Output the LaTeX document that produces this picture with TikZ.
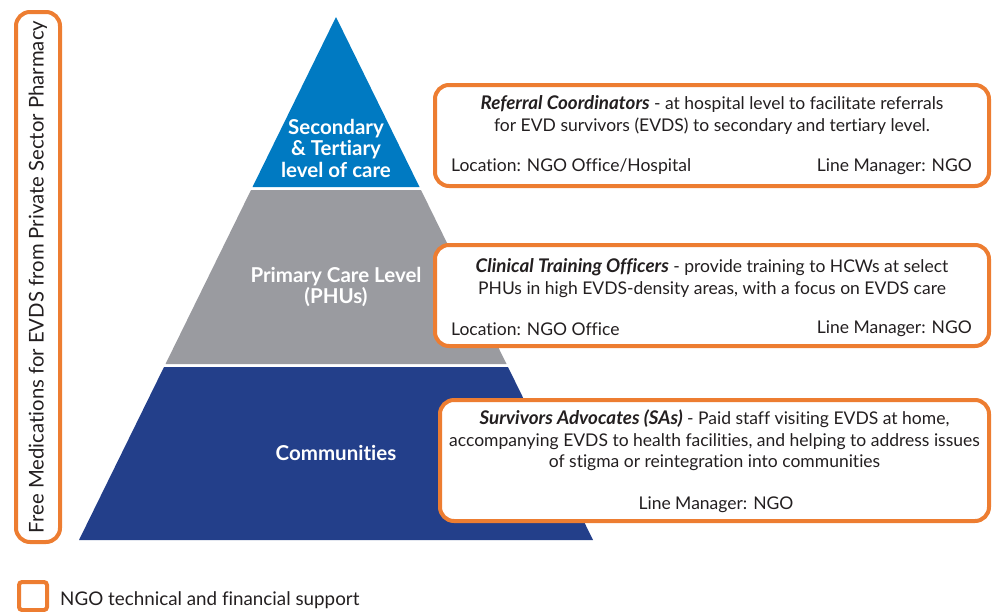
\documentclass[tikz,border=0pt]{standalone}
\usepackage{fontspec}
\setmainfont{Lato}[Ligatures=NoCommon]
\definecolor{tierblue}{RGB}{0,122,194}
\definecolor{tiergray}{RGB}{154,155,160}
\definecolor{tiernavy}{RGB}{35,63,138}
\definecolor{ngoorange}{RGB}{237,125,49}
\definecolor{txt}{RGB}{35,31,32}
\tikzset{
  ngobox/.style={draw=ngoorange, line width=4pt, rounded corners=14pt, fill=white, inner sep=0pt},
  tierlabel/.style={text=white, font=\fontsize{20.5}{21.5}\selectfont\bfseries, align=center},
  boxtext/.style={text=txt, font=\fontsize{17.5}{21.5}\selectfont, align=center, inner sep=0pt},
  boxside/.style={text=txt, font=\fontsize{17.5}{21}\selectfont, inner sep=0pt},
  lead/.style={font=\fontsize{18.8}{21.5}\selectfont\bfseries\itshape}
}
\begin{document}
\begin{tikzpicture}[x=1pt,y=-1pt]
\useasboundingbox (0,0) rectangle (993,611);
% pyramid tiers
\fill[tierblue] (336,17) -- (419.5,187) -- (252.5,187) -- cycle;
\fill[tiergray] (251,190) -- (421,190) -- (506.5,364) -- (165.5,364) -- cycle;
\fill[tiernavy] (164,367) -- (508,367) -- (593,540) -- (79,540) -- cycle;
\node[tierlabel] (sec) at (336,148) {Secondary\\\& Tertiary\\level of care};
\node[tierlabel] (prim) at (336,287) {Primary Care Level\\(PHUs)};
\node[tierlabel] (comm) at (336,453) {Communities};
% left box
\node[ngobox, minimum width=44pt, minimum height=530pt] (med) at (38,277) {};
\node[rotate=90, text=txt, font=\fontsize{20.3}{21}\selectfont] (medt) at (med.center) {Free Medications for EVDS from Private Sector Pharmacy};
% box 1
\node[ngobox, minimum width=554pt, minimum height=101pt] (b1) at (712,135.5) {};
\node[boxtext] (b1t) at (712,115) {{\fontsize{18.8}{21.5}\selectfont\bfseries\itshape Referral Coordinators} - at hospital level to facilitate referrals\\for EVD survivors (EVDS) to secondary and tertiary level.};
\node[boxside, anchor=west] (b1l) at (451,167) {Location: NGO Office/Hospital};
\node[boxside, anchor=east] (b1m) at (972,167) {Line Manager: NGO};
% box 2
\node[ngobox, minimum width=554pt, minimum height=101pt] (b2) at (712,295.5) {};
\node[boxtext] (b2t) at (712,278) {{\fontsize{18.8}{21.5}\selectfont\bfseries\itshape Clinical Training Officers} - provide training to HCWs at select\\PHUs in high EVDS-density areas, with a focus on EVDS care};
\node[boxside, anchor=west] (b2l) at (451,329) {Location: NGO Office};
\node[boxside, anchor=east] (b2m) at (972,329) {Line Manager: NGO};
% box 3
\node[ngobox, minimum width=549pt, minimum height=121pt] (b3) at (714.5,460.5) {};
\node[boxtext] (b3t) at (714.5,440.5) {{\fontsize{18.8}{21.5}\selectfont\bfseries\itshape Survivors Advocates (SAs)} - Paid staff visiting EVDS at home,\\accompanying EVDS to health facilities, and helping to address issues\\of stigma or reintegration into communities};
\node[boxside] (b3m) at (716,505) {Line Manager: NGO};
% legend
\node[ngobox, rounded corners=3pt, minimum width=28pt, minimum height=28pt] (leg) at (33,596) {};
\node[boxside, anchor=west, font=\fontsize{18.8}{20}\selectfont] (legt) at (60,600) {NGO technical and financial support};
\end{tikzpicture}
\end{document}
